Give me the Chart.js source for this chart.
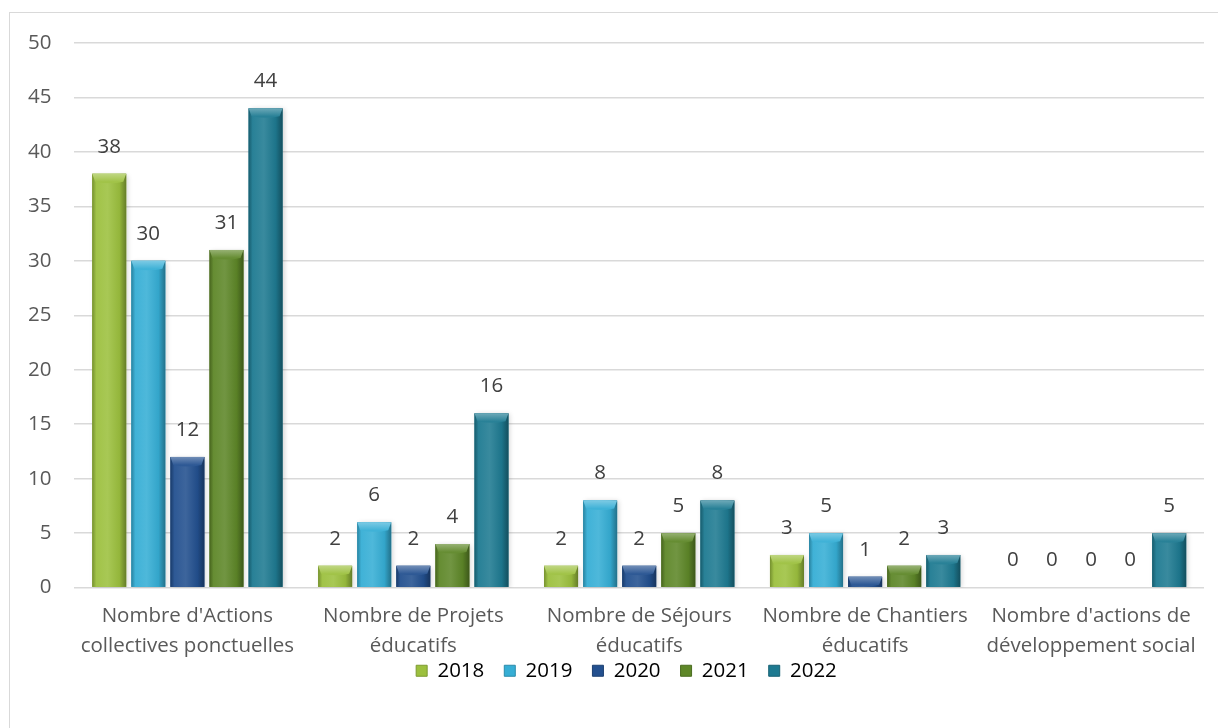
<!DOCTYPE html>
<html>
<head>
<meta charset="utf-8">
<script src="https://cdn.jsdelivr.net/npm/chart.js@4"></script>
<style>
  html, body { margin: 0; padding: 0; background: #fff; }
  #wrap { position: absolute; left: 0; top: 0; width: 1218px; height: 728px; }
  #frame { position: absolute; left: 9px; top: 12px; width: 1230px; height: 740px; border: 1.5px solid #D9D9D9; box-sizing: border-box; }
  canvas { position: absolute; left: 0; top: 0; }
</style>
</head>
<body>
<div id="wrap">
  <div id="frame"></div>
  <canvas id="c" width="1218" height="728"></canvas>
</div>
<script>
const categories = [
  ["Nombre d'Actions", "collectives ponctuelles"],
  ["Nombre de Projets", "éducatifs"],
  ["Nombre de Séjours", "éducatifs"],
  ["Nombre de Chantiers", "éducatifs"],
  ["Nombre d'actions de", "développement social"]
];
const seriesNames = ["2018", "2019", "2020", "2021", "2022"];
const values2018 = [38, 2, 2, 3, 0];
const values2019 = [30, 6, 8, 5, 0];
const values2020 = [12, 2, 2, 1, 0];
const values2021 = [31, 4, 5, 2, 0];
const values2022 = [44, 16, 8, 3, 5];
const yTicks = { min: 0, max: 50, step: 5 };

const colors = ["#9CC03E", "#36AED5", "#23508F", "#5E8728", "#1E7A91"];
const FONT = "'Open Sans', Lato, sans-serif";
const FSIZE = 20.5;
const LEGEND_PAD = 20;
const LEGEND_SHIFT = 27;
const LEGEND_SHIFT_X = 22;

function shade(hex, amt) {
  const n = parseInt(hex.slice(1), 16);
  let r = (n >> 16) & 255, g = (n >> 8) & 255, b = n & 255;
  const f = (c) => Math.max(0, Math.min(255, Math.round(amt >= 0 ? c + (255 - c) * amt : c * (1 + amt))));
  return `rgb(${f(r)},${f(g)},${f(b)})`;
}

const legendShift = {
  id: 'legendShift',
  afterLayout(chart) {
    if (chart.legend) {
      chart.legend.top -= LEGEND_SHIFT;
      chart.legend.bottom -= LEGEND_SHIFT;
      chart.legend.left += LEGEND_SHIFT_X;
      chart.legend.right += LEGEND_SHIFT_X;
    }
  }
};

const shadowPlugin = {
  id: 'barShadow',
  beforeDatasetDraw(chart) {
    const ctx = chart.ctx;
    ctx.save();
    ctx.shadowColor = 'rgba(0,0,0,0.18)';
    ctx.shadowBlur = 5;
    ctx.shadowOffsetX = 2;
    ctx.shadowOffsetY = 1;
  },
  afterDatasetDraw(chart, args) {
    const ctx = chart.ctx;
    ctx.restore();
    const meta = args.meta;
    const base = colors[args.index];
    meta.data.forEach((bar) => {
      const h = bar.base - bar.y;
      if (h <= 0) return;
      const l = bar.x - bar.width / 2, r = bar.x + bar.width / 2;
      const g = ctx.createLinearGradient(l, 0, r, 0);
      g.addColorStop(0, shade(base, -0.25));
      g.addColorStop(0.12, shade(base, 0.05));
      g.addColorStop(0.45, shade(base, 0.12));
      g.addColorStop(0.8, shade(base, -0.05));
      g.addColorStop(1, shade(base, -0.35));
      ctx.save();
      ctx.fillStyle = g;
      ctx.fillRect(l, bar.y, bar.width, h);
      const capH = Math.min(8, h);
      const cg = ctx.createLinearGradient(0, bar.y, 0, bar.y + capH);
      cg.addColorStop(0, shade(base, 0.35));
      cg.addColorStop(1, shade(base, 0.05));
      ctx.fillStyle = cg;
      ctx.beginPath();
      ctx.moveTo(l, bar.y);
      ctx.lineTo(r, bar.y);
      ctx.lineTo(r - 3, bar.y + capH);
      ctx.quadraticCurveTo(bar.x, bar.y + capH + 3, l + 3, bar.y + capH);
      ctx.closePath();
      ctx.fill();
      ctx.restore();
    });
  }
};

const labelPlugin = {
  id: 'valueLabels',
  afterDatasetsDraw(chart) {
    const ctx = chart.ctx;
    ctx.save();
    ctx.font = `${FSIZE}px ${FONT}`;
    ctx.fillStyle = '#404040';
    ctx.textAlign = 'center';
    ctx.textBaseline = 'middle';
    chart.data.datasets.forEach((ds, di) => {
      const meta = chart.getDatasetMeta(di);
      meta.data.forEach((bar, i) => {
        ctx.fillText(String(ds.data[i]), bar.x, bar.y - 27);
      });
    });
    ctx.restore();
  }
};

const allValues = [values2018, values2019, values2020, values2021, values2022];

new Chart(document.getElementById('c'), {
  type: 'bar',
  data: {
    labels: categories,
    datasets: seriesNames.map((name, i) => ({
      label: name,
      data: allValues[i],
      backgroundColor: colors[i],
      borderWidth: 0,
      categoryPercentage: 0.865,
      barPercentage: 0.87
    }))
  },
  plugins: [shadowPlugin, labelPlugin, legendShift],
  options: {
    responsive: false,
    animation: false,
    devicePixelRatio: 1,
    layout: { padding: { top: 43, left: 5, right: 14, bottom: 10 } },
    plugins: {
      tooltip: { enabled: false },
      legend: {
        position: 'bottom',
        labels: {
          boxWidth: 11, boxHeight: 11, padding: LEGEND_PAD,
          color: '#595959',
          font: { size: FSIZE, family: FONT },
          generateLabels(chart) {
            return chart.data.datasets.map((ds, i) => ({
              text: ds.label, fillStyle: colors[i], strokeStyle: shade(colors[i], -0.2),
              lineWidth: 1, datasetIndex: i, hidden: false
            }));
          }
        }
      }
    },
    scales: {
      x: {
        grid: { display: false },
        border: { display: false },
        ticks: { color: '#595959', font: { size: FSIZE, family: FONT, lineHeight: 1.46 }, padding: 6, maxRotation: 0 }
      },
      y: {
        min: yTicks.min, max: yTicks.max,
        grid: { color: '#D9D9D9', lineWidth: 1.5, drawTicks: false },
        border: { display: false },
        ticks: { stepSize: yTicks.step, color: '#595959', font: { size: FSIZE, family: FONT }, padding: 23 }
      }
    }
  }
});
</script>
</body>
</html>
